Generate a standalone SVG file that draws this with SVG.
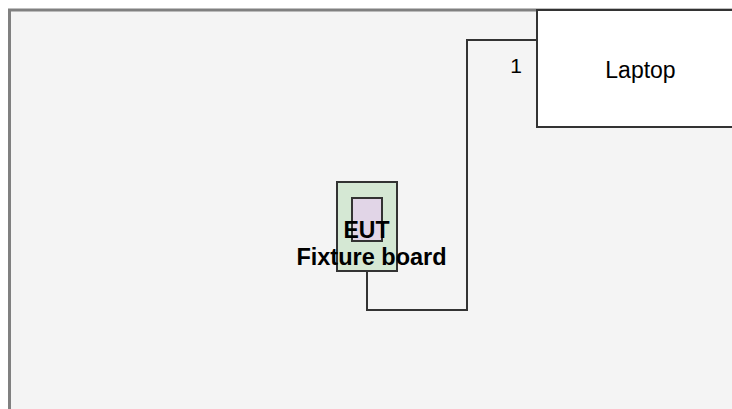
<svg xmlns="http://www.w3.org/2000/svg" width="732" height="409" viewBox="0 0 732 409">
<style>
.lbl{font-family:"Liberation Sans",Arial,sans-serif;fill:#000}
.b{font-weight:bold}
.conn{fill:none;stroke:#333;stroke-width:2}
</style>
<rect x="0" y="0" width="732" height="409" fill="#fff"/>
<g id="frame">
<rect x="9.5" y="10" width="740" height="420" fill="#f4f4f4" stroke="#808080" stroke-width="3"/>
</g>
<g id="connectors">
<path class="conn" d="M537 40 H467 V310 H367 V271"/>
</g>
<g id="laptop">
<rect x="537" y="10" width="220" height="117" fill="#fff" stroke="#333" stroke-width="2"/>
<text class="lbl" x="640.5" y="78" font-size="23" text-anchor="middle">Laptop</text>
<text class="lbl" x="522" y="73" font-size="21" text-anchor="end">1</text>
</g>
<g id="fixture">
<rect x="337" y="182" width="60" height="89" fill="#d5e8d4" stroke="#333" stroke-width="2"/>
<rect x="352" y="198" width="30" height="43" fill="#e1d5e7" stroke="#333" stroke-width="2"/>
<text class="lbl b" x="366.5" y="238" font-size="23" text-anchor="middle">EUT</text>
<text class="lbl b" x="371.5" y="264.5" font-size="23.5" text-anchor="middle">Fixture board</text>
</g>
</svg>
